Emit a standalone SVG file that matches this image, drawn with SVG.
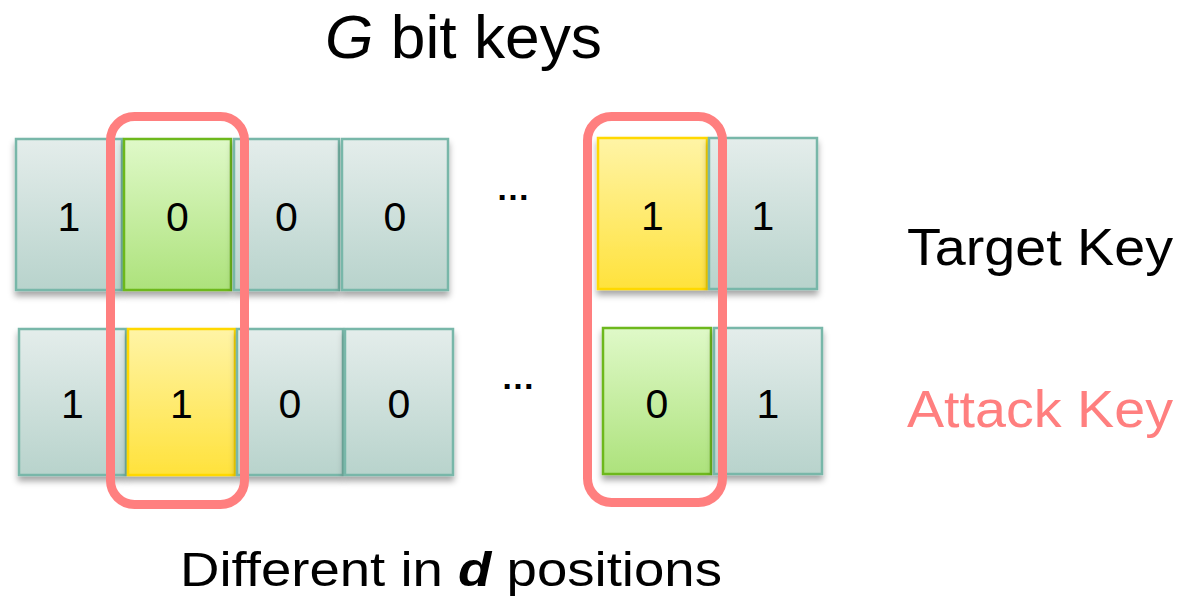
<svg xmlns="http://www.w3.org/2000/svg" width="1184" height="597" viewBox="0 0 1184 597">
  <defs>
    <linearGradient id="gTeal" x1="0" y1="0" x2="0" y2="1">
      <stop offset="0" stop-color="#E4EDEB"/>
      <stop offset="1" stop-color="#B8D3CC"/>
    </linearGradient>
    <linearGradient id="gGreen" x1="0" y1="0" x2="0" y2="1">
      <stop offset="0" stop-color="#DFF9C8"/>
      <stop offset="1" stop-color="#ADE27C"/>
    </linearGradient>
    <linearGradient id="gYellow" x1="0" y1="0" x2="0" y2="1">
      <stop offset="0" stop-color="#FFF4A6"/>
      <stop offset="1" stop-color="#FFE23C"/>
    </linearGradient>
    <filter id="shadow" x="-20%" y="-20%" width="140%" height="150%">
      <feDropShadow dx="0" dy="5" stdDeviation="3" flood-color="#000" flood-opacity="0.35"/>
    </filter>
  </defs>
  <style>
    .cell { stroke-width: 2.5; filter: url(#shadow); }
    .teal { fill: url(#gTeal); stroke: #78B7A9; }
    .green { fill: url(#gGreen); stroke: #6DB81E; }
    .yellow { fill: url(#gYellow); stroke: #FFD800; }
    .bit { font-family: "Liberation Sans", Arial, sans-serif; font-size: 41px; fill: #000; text-anchor: middle; }
    .dots { font-family: "Liberation Sans", Arial, sans-serif; font-size: 34px; font-weight: bold; fill: #000; text-anchor: middle; }
    .lbl { font-family: "Liberation Sans", Arial, sans-serif; fill: #000; }
    .ring { fill: none; stroke: #FF7F7F; stroke-width: 9; }
  </style>
  <rect width="1184" height="597" fill="#fff"/>

  <!-- title -->
  <text class="lbl" x="325" y="58" font-size="62" textLength="277" lengthAdjust="spacingAndGlyphs"><tspan font-style="italic">G</tspan> bit keys</text>

  <!-- target key row -->
  <g id="target-row">
    <g id="t1"><rect class="cell teal" x="16" y="139" width="106" height="151"/><text class="bit" x="69" y="231">1</text></g>
    <g id="t2"><rect class="cell green" x="124" y="139" width="107" height="151"/><text class="bit" x="177.5" y="231">0</text></g>
    <g id="t3"><rect class="cell teal" x="234" y="139" width="105" height="151"/><text class="bit" x="286.5" y="231">0</text></g>
    <g id="t4"><rect class="cell teal" x="342" y="139" width="106" height="151"/><text class="bit" x="395" y="231">0</text></g>
    <g id="t-ellipsis"><text class="dots" x="513" y="200">…</text></g>
    <g id="t5"><rect class="cell yellow" x="598" y="138" width="109" height="151"/><text class="bit" x="652.5" y="230">1</text></g>
    <g id="t6"><rect class="cell teal" x="709" y="138" width="108" height="151"/><text class="bit" x="763" y="230">1</text></g>
  </g>

  <!-- attack key row -->
  <g id="attack-row">
    <g id="a1"><rect class="cell teal" x="19" y="329" width="107" height="146"/><text class="bit" x="72.5" y="418">1</text></g>
    <g id="a2"><rect class="cell yellow" x="128" y="329" width="107" height="146"/><text class="bit" x="181.5" y="418">1</text></g>
    <g id="a3"><rect class="cell teal" x="237" y="329" width="106" height="146"/><text class="bit" x="290" y="418">0</text></g>
    <g id="a4"><rect class="cell teal" x="345" y="329" width="108" height="146"/><text class="bit" x="399" y="418">0</text></g>
    <g id="a-ellipsis"><text class="dots" x="518" y="389">…</text></g>
    <g id="a5"><rect class="cell green" x="603" y="328" width="108" height="146"/><text class="bit" x="657" y="418">0</text></g>
    <g id="a6"><rect class="cell teal" x="714" y="328" width="108" height="146"/><text class="bit" x="768" y="418">1</text></g>
  </g>

  <!-- highlight rings around differing positions -->
  <g id="rings">
    <rect class="ring" x="110.5" y="116.5" width="134" height="388" rx="24"/>
    <rect class="ring" x="587.5" y="116.5" width="135" height="386" rx="24"/>
  </g>

  <!-- row labels -->
  <text class="lbl" x="907" y="265" font-size="52" textLength="266" lengthAdjust="spacingAndGlyphs">Target Key</text>
  <text class="lbl" x="907" y="427" font-size="52" style="fill:#FF7F7F" textLength="266" lengthAdjust="spacingAndGlyphs">Attack Key</text>

  <!-- caption -->
  <text class="lbl" x="180" y="586" font-size="48" textLength="542" lengthAdjust="spacingAndGlyphs">Different in <tspan font-weight="bold" font-style="italic">d</tspan> positions</text>
</svg>
